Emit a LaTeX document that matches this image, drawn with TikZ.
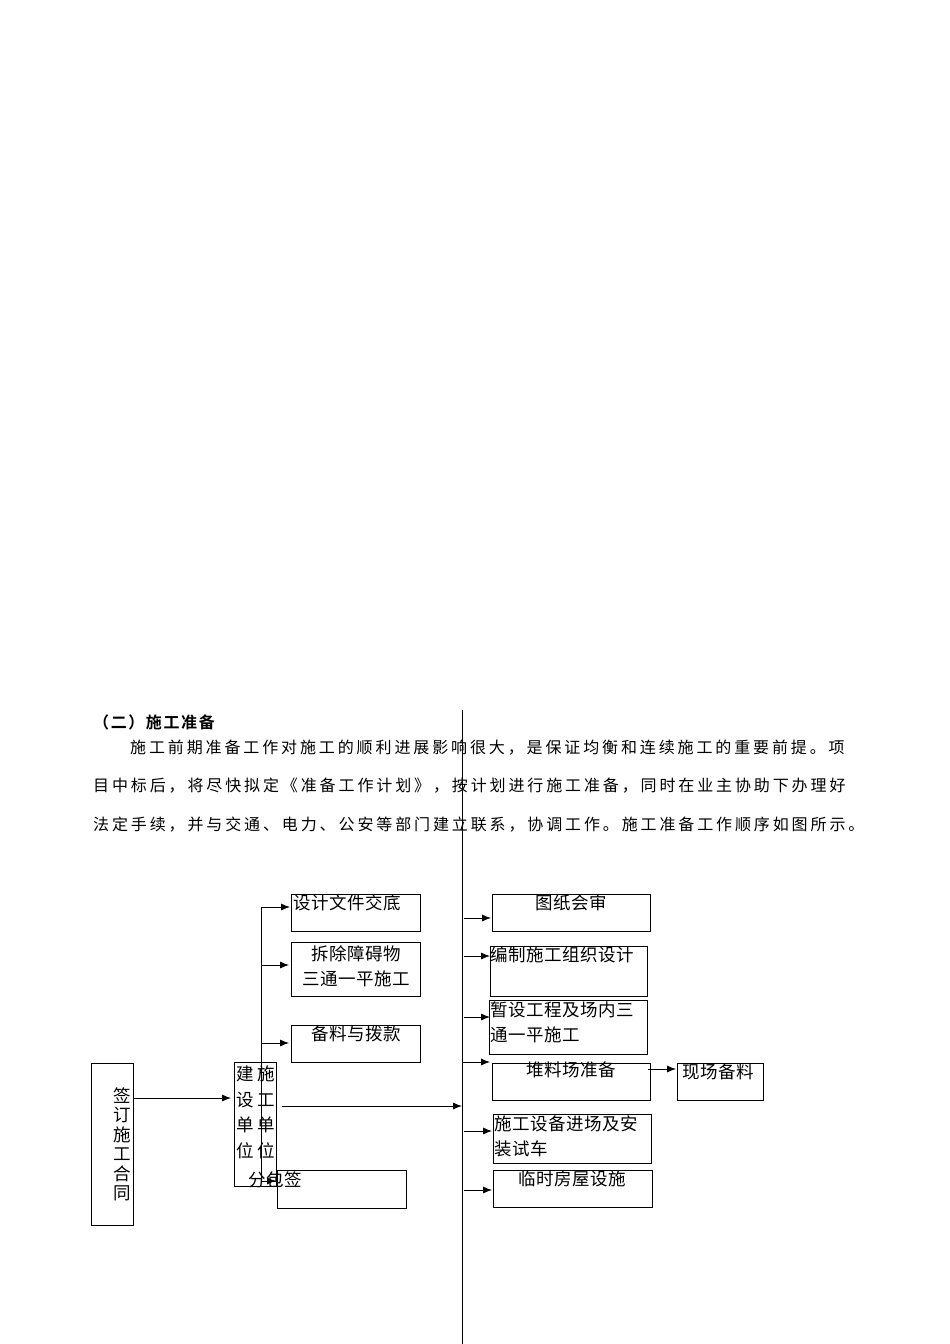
\documentclass[tikz,border=0pt]{standalone}
\usetikzlibrary{arrows.meta}
\usepackage{fontspec}
\newfontfamily\cjk[LetterSpace=3]{Noto Sans CJK SC}
\newfontfamily\cjkp[LetterSpace=18]{Noto Sans CJK SC}
\newfontfamily\cjkb[LetterSpace=10]{Noto Sans CJK SC Bold}
\begin{document}
\begin{tikzpicture}[x=1pt,y=-1pt,
  bx/.style={draw,thick},
  lb/.style={inner sep=0,anchor=north west,font=\cjk\fontsize{17.5}{19}\selectfont},
  para/.style={inner sep=0,anchor=west,font=\cjkp\fontsize{16}{18}\selectfont},
  ar/.style={thick,-{Latex[length=9pt,width=7pt]}}]
\useasboundingbox (0,0) rectangle (950,1344);
\node[inner sep=0,anchor=west,font=\cjkb\fontsize{16}{18}\selectfont] (h) at (93,722) {（二）施工准备};
\node[para] (p1) at (130,748) {施工前期准备工作对施工的顺利进展影响很大，是保证均衡和连续施工的重要前提。项};
\node[para] (p2) at (93,786) {目中标后，将尽快拟定《准备工作计划》，按计划进行施工准备，同时在业主协助下办理好};
\node[para] (p3) at (93,825) {法定手续，并与交通、电力、公安等部门建立联系，协调工作。施工准备工作顺序如图所示。};
\coordinate (vt) at (462,710); \coordinate (vb) at (462,1344);
\draw[thick] (vt) -- (vb);
% left column
\draw[bx] (91,1063) rectangle (133,1225);
\node[lb,anchor=north,align=center,font=\cjk\fontsize{17.5}{19.5}\selectfont] (qd) at (122,1087) {签\\订\\施\\工\\合\\同};
\draw[bx] (234,1062) rectangle (276,1186);
\node[lb,align=left,font=\cjk\fontsize{17.5}{25.5}\selectfont] (js) at (236,1066) {建\\设\\单\\位};
\node[lb,align=left,font=\cjk\fontsize{17.5}{25.5}\selectfont] (sg) at (257,1066) {施\\工\\单\\位};
\coordinate (a1) at (133,1098); \coordinate (a2) at (231,1098);
\draw[ar] (a1) -- (a2);
\coordinate (t1) at (261,907); \coordinate (t2) at (261,1181);
\draw[thick] (t1) -- (t2);
\draw[bx] (291,894) rectangle (420,931);
\node[lb] (n1) at (293,894) {设计文件交底};
\draw[bx] (291,942) rectangle (420,996);
\node[lb,anchor=north,align=center,font=\cjk\fontsize{17.5}{25}\selectfont] (n2) at (356,945) {拆除障碍物\\三通一平施工};
\draw[bx] (291,1025) rectangle (420,1062);
\node[lb,anchor=north] (n3) at (356,1026) {备料与拨款};
\draw[bx] (277,1170) rectangle (406,1208);
\node[lb] (n4) at (248,1171) {分包签};
\draw[ar] (t1) -- (290,907);
\draw[ar] (261,965) -- (289,965);
\draw[ar] (261,1043) -- (289,1043);
\draw[ar] (t2) -- (276,1181);
\coordinate (m1) at (282,1106);
\draw[ar] (m1) -- (462,1106);
% right column
\draw[bx] (492,894) rectangle (650,931);
\node[lb,anchor=north] (r1) at (571,894) {图纸会审};
\draw[bx] (490,946) rectangle (647,996);
\node[lb] (r2) at (490,946) {编制施工组织设计};
\draw[bx] (489,1000) rectangle (647,1054);
\node[lb,align=left,font=\cjk\fontsize{17.5}{25}\selectfont] (r3) at (490,1002) {暂设工程及场内三\\通一平施工};
\draw[bx] (492,1063) rectangle (650,1100);
\node[lb,anchor=north] (r4) at (571,1062) {堆料场准备};
\draw[bx] (677,1063) rectangle (763,1100);
\node[lb] (r5) at (682,1064) {现场备料};
\draw[bx] (493,1114) rectangle (651,1163);
\node[lb,align=left,font=\cjk\fontsize{17.5}{25}\selectfont] (r6) at (494,1116) {施工设备进场及安\\装试车};
\draw[bx] (493,1170) rectangle (652,1207);
\node[lb,anchor=north] (r7) at (572,1170) {临时房屋设施};
\draw[ar] (464,918) -- (491,918);
\draw[ar] (464,956) -- (490,956);
\draw[ar] (464,1017) -- (490,1017);
\draw[ar] (462,1062) -- (490,1062);
\draw[ar] (648,1069) -- (676,1069);
\draw[ar] (464,1131) -- (492,1131);
\draw[ar] (464,1190) -- (492,1190);
\end{tikzpicture}
\end{document}
